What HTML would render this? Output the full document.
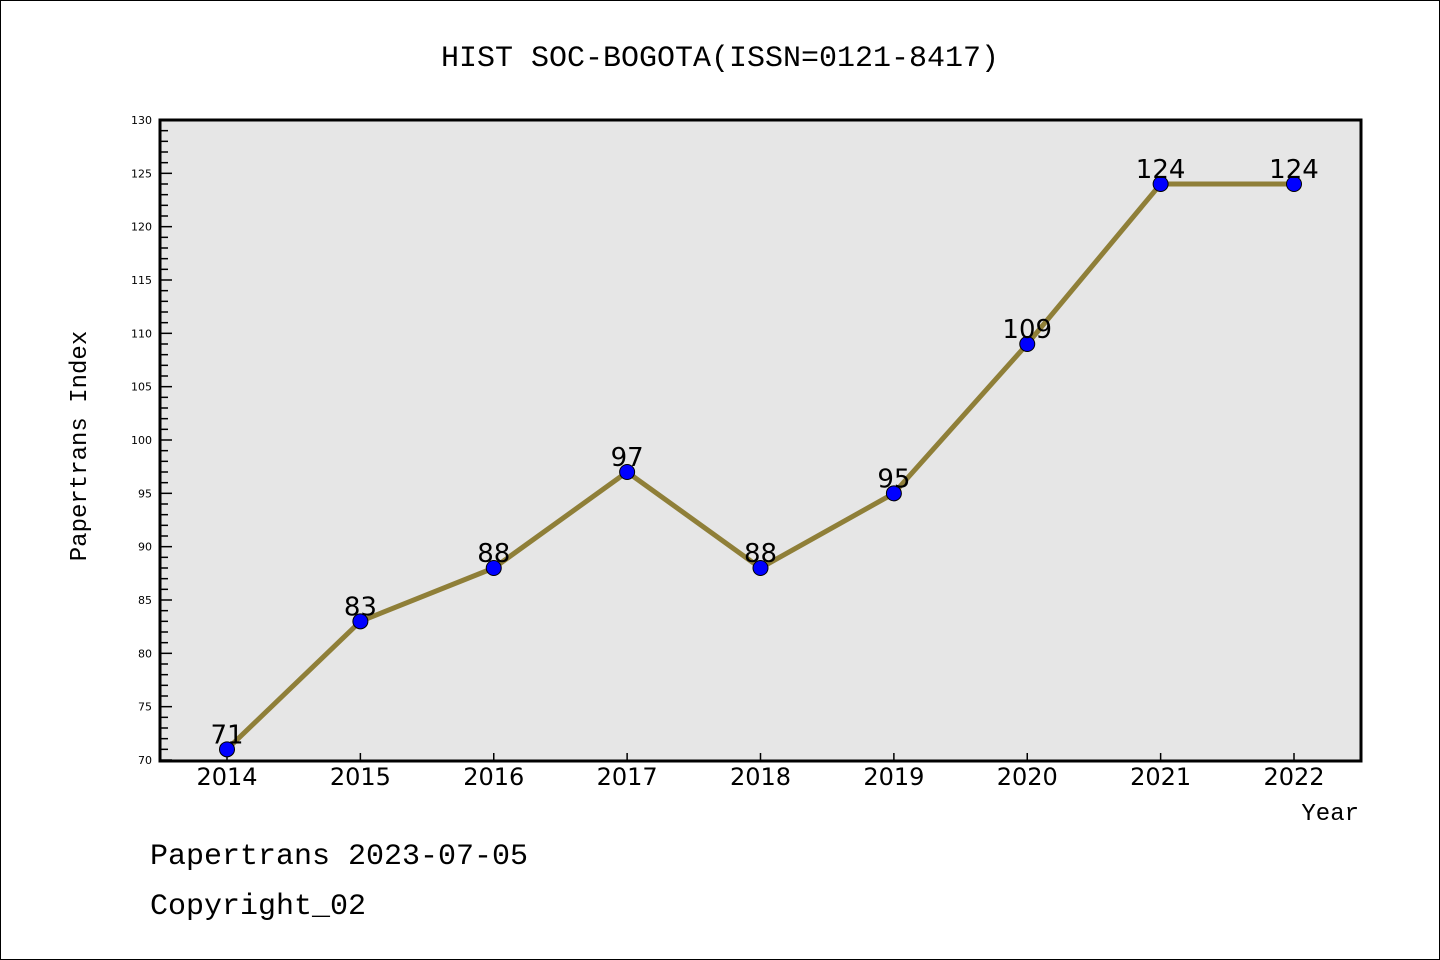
<!DOCTYPE html>
<html><head><meta charset="utf-8"><style>
body{margin:0;background:#fff}
svg{display:block;font-family:"Liberation Mono","DejaVu Sans Mono",monospace}
</style></head><body>
<svg id="c" width="1440" height="960">
<rect x="0.5" y="0.5" width="1439" height="959" fill="#fff" stroke="#000"/>
<text x="720" y="66" text-anchor="middle" font-size="30">HIST SOC-BOGOTA(ISSN=0121-8417)</text>
<rect x="160" y="120" width="1201" height="641" fill="#e6e6e6"/>
<g id="yt"></g>
<g id="xt"></g>
<g id="ser"></g>
<rect x="160" y="120" width="1201" height="641" fill="none" stroke="#000" stroke-width="3"/>
<text x="86" y="446" text-anchor="middle" font-size="24" transform="rotate(-90 86 446)">Papertrans Index</text>
<text x="1359" y="820" text-anchor="end" font-size="24">Year</text>
<text x="150" y="864" font-size="30">Papertrans 2023-07-05</text>
<text x="150" y="914" font-size="30">Copyright_02</text>
</svg>
<script>
const years=["2014","2015","2016","2017","2018","2019","2020","2021","2022"];
const values=[71,83,88,97,88,95,109,124,124];
const yTicks=[70,75,80,85,90,95,100,105,110,115,120,125,130];
const NS="http://www.w3.org/2000/svg";
const x0=227,dx=(1294-227)/8;
function X(i){return x0+i*dx;}
function Y(v){return 760-(v-70)*(640/60);}
function mk(t,a,p){const e=document.createElementNS(NS,t);for(const k in a)e.setAttribute(k,a[k]);p.appendChild(e);return e;}
const yt=document.getElementById('yt');
for(let v=70;v<=130;v++){
  const major=v%5===0;
  const l=mk('line',{x1:160,x2:160+(major?12:8),y1:Y(v),y2:Y(v),stroke:'#000','stroke-width':1.5},yt);
  
  
}
yTicks.forEach(v=>{
  const t=mk('text',{x:152,y:Y(v)+4,'text-anchor':'end','font-size':11,'font-family':'DejaVu Sans, sans-serif'},yt);
  t.textContent=v;
  
  
});
const xt=document.getElementById('xt');
years.forEach((y,i)=>{
  const l=mk('line',{x1:X(i),x2:X(i),y1:761,y2:753,stroke:'#000','stroke-width':1.5},xt);
  
  
  const t=mk('text',{x:X(i),y:785,'text-anchor':'middle','font-size':24,'font-family':'DejaVu Sans, sans-serif'},xt);
  t.textContent=y;
  
  
});
const ser=document.getElementById('ser');
const pl=mk('polyline',{points:values.map((v,i)=>X(i)+','+Y(v)).join(' '),fill:'none',stroke:'#8f7f38','stroke-width':5},ser);


values.forEach((v,i)=>{
  const c=mk('circle',{cx:X(i),cy:Y(v),r:7.5,fill:'#0000ff',stroke:'#000','stroke-width':1},ser);
  
  
  const t=mk('text',{x:X(i),y:Y(v)-6,'text-anchor':'middle','font-size':26,'font-family':'DejaVu Sans, sans-serif'},ser);
  t.textContent=v;
  
  
});
</script>
</body></html>
